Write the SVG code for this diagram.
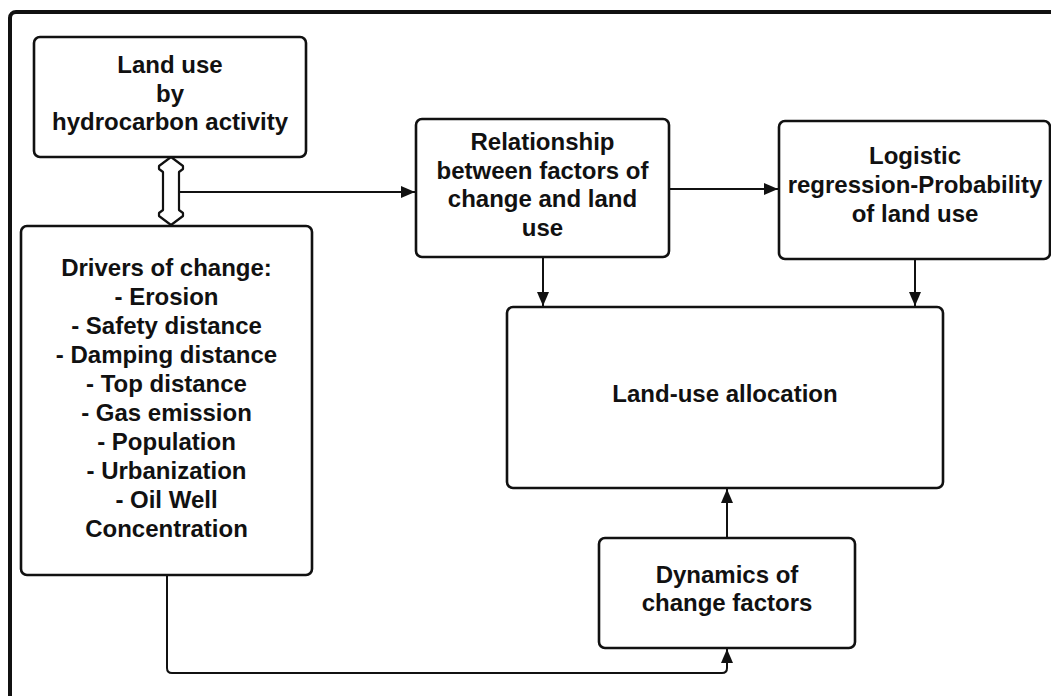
<svg xmlns="http://www.w3.org/2000/svg" width="1051" height="696" viewBox="0 0 1051 696">
<style>
.box{fill:#fff;stroke:#111;stroke-width:2.6}
.t{font-family:"Liberation Sans",Arial,sans-serif;font-weight:bold;font-size:24px;fill:#111;text-anchor:middle}
.c{fill:none;stroke:#111;stroke-width:2}
</style>
<defs>
<marker id="ah" markerUnits="userSpaceOnUse" markerWidth="14" markerHeight="12" viewBox="0 0 14 12" refX="14" refY="6" orient="auto">
<path d="M0,0 L14,6 L0,12 Z" fill="#111"/>
</marker>
</defs>
<rect x="0" y="0" width="1051" height="696" fill="#fff"/>
<rect id="frame" x="10" y="12" width="1100" height="720" rx="6" fill="none" stroke="#111" stroke-width="4"/>
<g id="connectors">
<polygon points="171,157 183,166 183,169 179,172 179,210 183,213 183,216 171,225 159,216 159,213 163,210 163,172 159,169 159,166" fill="#fff" stroke="#111" stroke-width="2.2" stroke-linejoin="round"/>
<path class="c" d="M179,192 L415,192" marker-end="url(#ah)"/>
<path class="c" d="M669,189 L778,189" marker-end="url(#ah)"/>
<path class="c" d="M543,257 L543,306" marker-end="url(#ah)"/>
<path class="c" d="M915,259 L915,306" marker-end="url(#ah)"/>
<path class="c" d="M727,538 L727,489" marker-end="url(#ah)"/>
<path class="c" d="M167,575 L167,668 Q167,673 172,673 L722,673 Q727,673 727,668 L727,649" marker-end="url(#ah)"/>
</g>
<g id="landuse">
<rect class="box" x="34" y="37" width="272" height="120" rx="6"/>
<text class="t" x="170" y="73">Land use</text>
<text class="t" x="170" y="102">by</text>
<text class="t" x="170" y="130">hydrocarbon activity</text>
</g>
<g id="drivers">
<rect class="box" x="21" y="226" width="291" height="349" rx="6"/>
<text class="t" x="166.5" y="276">Drivers of change:</text>
<text class="t" x="166.5" y="305">- Erosion</text>
<text class="t" x="166.5" y="334">- Safety distance</text>
<text class="t" x="166.5" y="363">- Damping distance</text>
<text class="t" x="166.5" y="392">- Top distance</text>
<text class="t" x="166.5" y="421">- Gas emission</text>
<text class="t" x="166.5" y="450">- Population</text>
<text class="t" x="166.5" y="479">- Urbanization</text>
<text class="t" x="166.5" y="508">- Oil Well</text>
<text class="t" x="166.5" y="537">Concentration</text>
</g>
<g id="relationship">
<rect class="box" x="416" y="119" width="253" height="138" rx="6"/>
<text class="t" x="542.5" y="150">Relationship</text>
<text class="t" x="542.5" y="179">between factors of</text>
<text class="t" x="542.5" y="207">change and land</text>
<text class="t" x="542.5" y="236">use</text>
</g>
<g id="logistic">
<rect class="box" x="779" y="121" width="271" height="138" rx="6"/>
<text class="t" x="915" y="164">Logistic</text>
<text class="t" x="915" y="193">regression-Probability</text>
<text class="t" x="915" y="222">of land use</text>
</g>
<g id="allocation">
<rect class="box" x="507" y="307" width="436" height="181" rx="6"/>
<text class="t" x="725" y="402">Land-use allocation</text>
</g>
<g id="dynamics">
<rect class="box" x="599" y="538" width="256" height="110" rx="6"/>
<text class="t" x="727" y="583">Dynamics of</text>
<text class="t" x="727" y="611">change factors</text>
</g>
</svg>
